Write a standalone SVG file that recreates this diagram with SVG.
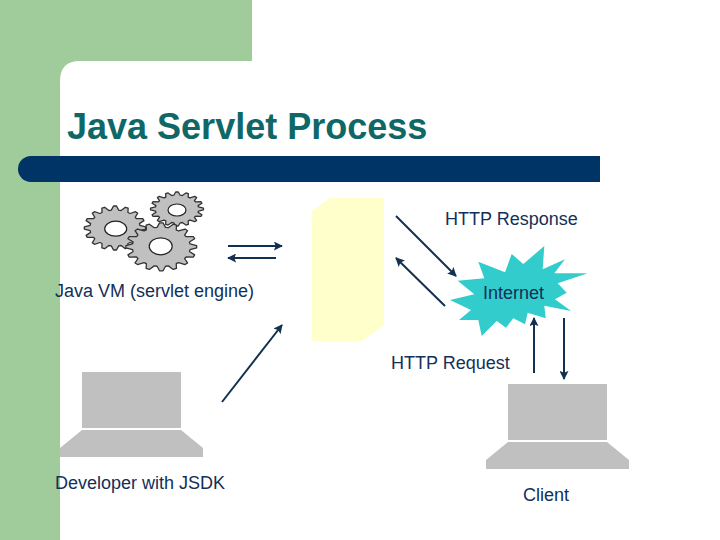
<svg xmlns="http://www.w3.org/2000/svg" width="720" height="540" viewBox="0 0 720 540">
<style>
text{font-family:"Liberation Sans",Arial,sans-serif;font-size:18px;fill:#123058}
.title{font-size:36px;font-weight:bold;fill:#0f6767}
#g{fill:#c0c0c0;stroke:#333;stroke-width:1.3;vector-effect:non-scaling-stroke;stroke-linejoin:round}
.hole{fill:#fff;stroke:#222;stroke-width:1.2}
.pc{fill:#c0c0c0}
.arrow{stroke:#12304f;stroke-width:2;fill:none;marker-end:url(#ah)}
</style>
<defs>
<marker id="ah" viewBox="0 0 10 10" refX="9" refY="5" markerWidth="4.500" markerHeight="4.500" orient="auto"><path d="M0 0L10 5L0 10L2 5Z" fill="#12304f"/></marker>
<polygon id="g" points="99.9,4.9 81.1,12 79.5,19.9 94.2,33.7 90.4,42.8 70.3,42.2 65.9,48.8 74.1,67.2 67.2,74.1 48.8,65.9 42.2,70.3 42.8,90.4 33.7,94.2 19.9,79.5 12,81.1 4.9,99.9 -4.9,99.9 -12,81.1 -19.9,79.5 -33.7,94.2 -42.8,90.4 -42.2,70.3 -48.8,65.9 -67.2,74.1 -74.1,67.2 -65.9,48.8 -70.3,42.2 -90.4,42.8 -94.2,33.7 -79.5,19.9 -81.1,12 -99.9,4.9 -99.9,-4.9 -81.1,-12 -79.5,-19.9 -94.2,-33.7 -90.4,-42.8 -70.3,-42.2 -65.9,-48.8 -74.1,-67.2 -67.2,-74.1 -48.8,-65.9 -42.2,-70.3 -42.8,-90.4 -33.7,-94.2 -19.9,-79.5 -12,-81.1 -4.9,-99.9 4.9,-99.9 12,-81.1 19.9,-79.5 33.7,-94.2 42.8,-90.4 42.2,-70.3 48.8,-65.9 67.2,-74.1 74.1,-67.2 65.9,-48.8 70.3,-42.2 90.4,-42.8 94.2,-33.7 79.5,-19.9 81.1,-12 99.9,-4.9"/>
</defs>
<rect width="720" height="540" fill="#fff"/>
<g id="background">
<path d="M0 0H252V61H80Q60 61 60 81V540H0Z" fill="#9fcc9a"/>
<path d="M31 156H600V182H31A13 13 0 0 1 31 156Z" fill="#003366"/>
<text class="title" x="67" y="139">Java Servlet Process</text>
</g>
<g id="java-vm">
<use href="#g" transform="translate(177 209) scale(.265 .17)"/>
<ellipse class="hole" cx="177" cy="210" rx="9" ry="6"/>
<use href="#g" transform="translate(115 228) scale(.307 .22)"/>
<ellipse class="hole" cx="115.700" cy="228.700" rx="11" ry="7.500"/>
<use href="#g" transform="translate(161.300 246.800) scale(.354 .24)"/>
<ellipse class="hole" cx="160.700" cy="246.300" rx="11.500" ry="8.500"/>
<text x="55" y="297">Java VM (servlet engine)</text>
</g>
<g id="server">
<polygon points="312,211 330,198 384,198 384,325 362,341 312,341" fill="#ffffcc"/>
</g>
<g id="internet">
<polygon points="544.3,246 542.7,269.3 565,259.3 554.3,273.3 587.7,273.3 557.7,283.3 566.7,292.7 555,299.3 571,311 544.3,305.7 545.7,318.3 527.7,312.700 525,324.3 513.3,318.3 506,327.7 496.7,321 481.7,336 478.3,320 459,320 471,310 450,300 474.3,294.3 457.7,280.7 484.3,278.3 478.3,261.7 505,272.3 511.7,254 523.3,264" fill="#33cccc"/>
<text x="483" y="299">Internet</text>
</g>
<g id="developer">
<rect class="pc" x="82" y="372" width="99" height="56"/>
<polygon class="pc" points="82,430 181,430 203,448 203,457 60,457 60,448"/>
<text x="55" y="489">Developer with JSDK</text>
</g>
<g id="client">
<rect class="pc" x="508" y="384" width="99" height="56"/>
<polygon class="pc" points="508,442 607,442 629,460 629,469 486,469 486,460"/>
<text x="523" y="501">Client</text>
</g>
<g id="connectors">
<line class="arrow" x1="228" y1="246" x2="282" y2="246"/>
<line class="arrow" x1="276" y1="258" x2="228" y2="258"/>
<line class="arrow" x1="222" y1="402" x2="282" y2="325"/>
<line class="arrow" x1="396" y1="216" x2="456" y2="276"/>
<line class="arrow" x1="445" y1="306" x2="396" y2="258"/>
<line class="arrow" x1="534" y1="373" x2="534" y2="318"/>
<line class="arrow" x1="564" y1="318" x2="564" y2="379"/>
</g>
<g id="labels">
<text x="445" y="225">HTTP Response</text>
<text x="391" y="369">HTTP Request</text>
</g>
</svg>
